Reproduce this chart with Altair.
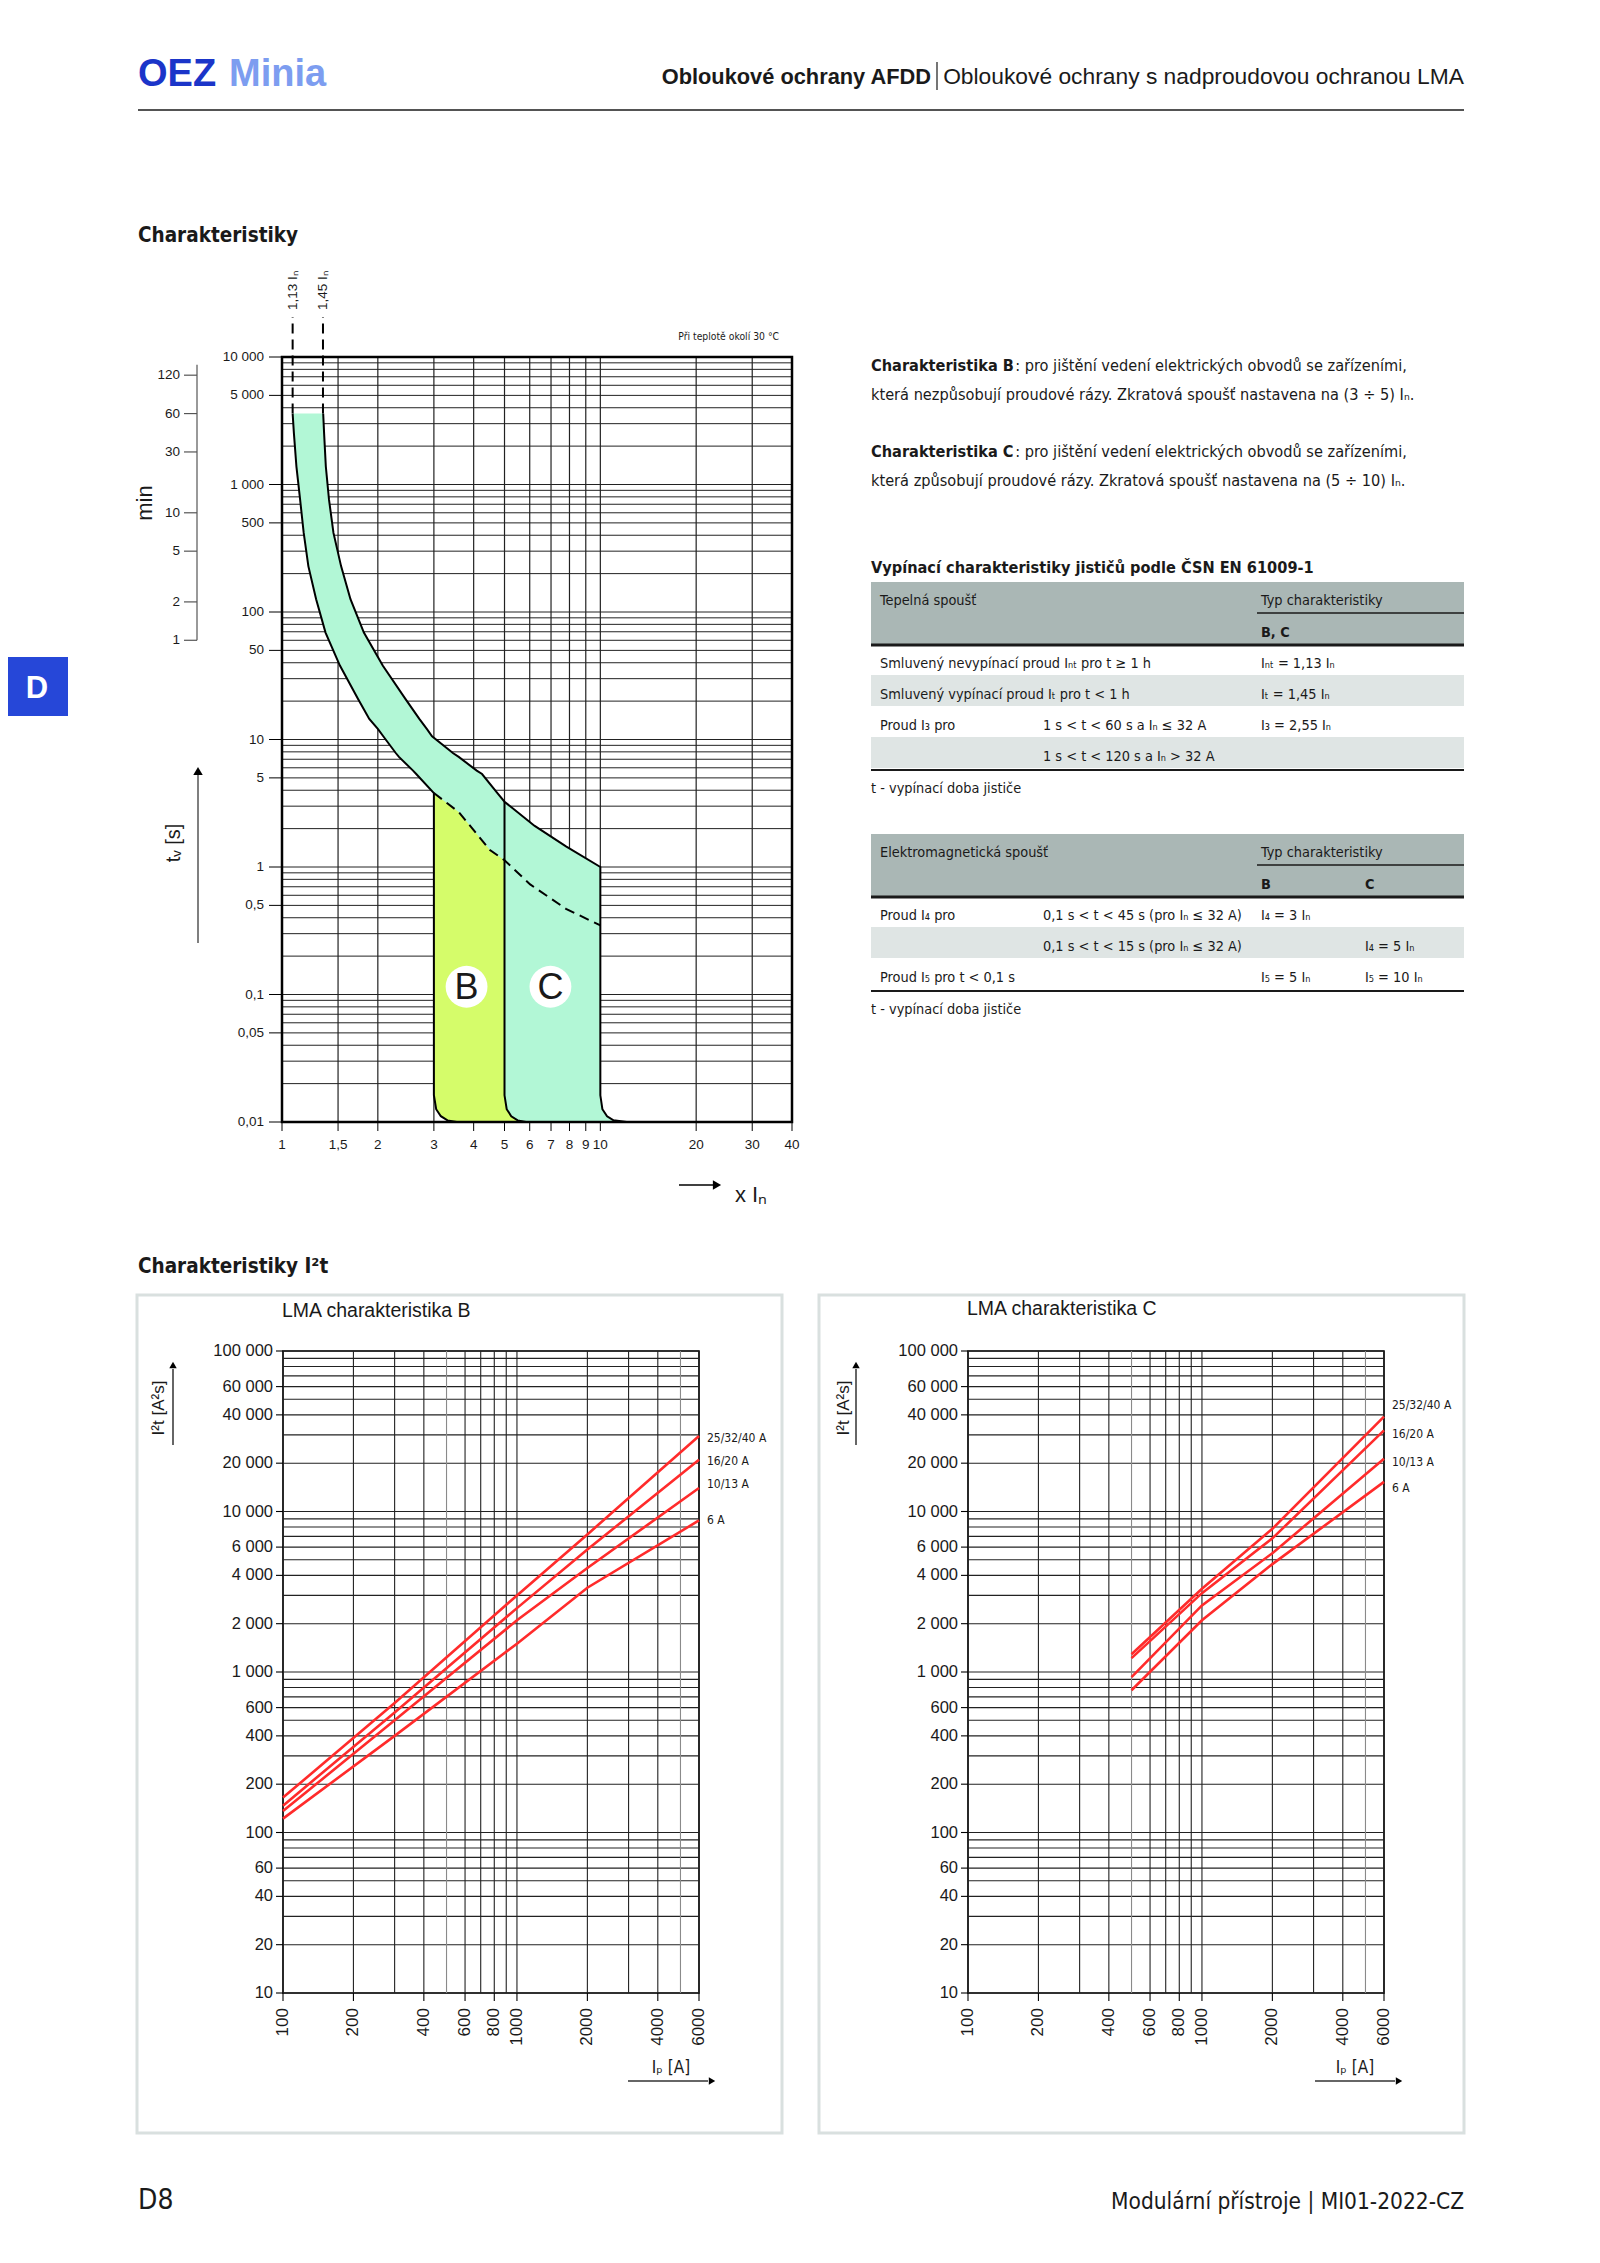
import altair as alt
import pandas as pd

# ---------------------------------------------------------------- style
INK = "#1a1a1a"
COND = "DejaVu Sans Condensed, Liberation Sans Narrow, sans-serif"
SANS = "Liberation Sans, Arial, sans-serif"
MINT = "#b2f7d6"
LIME = "#d5fc6a"
RED = "#ff2b2b"
BLUE_DARK = "#1b35c9"
BLUE_LIGHT = "#7d9df0"
TAB_BLUE = "#2647d8"
HEAD_GRAY = "#aab7b5"
ROW_GRAY = "#dfe5e4"
BOX_GRAY = "#d9e0df"
GRID_DARK = "#222222"
GRID_LIGHT = "#8a8a8a"

# ---------------------------------------------------------------- texts
BRAND = ["OEZ", "Minia"]
HEADER_BOLD = "Obloukové ochrany AFDD"
HEADER_REG = "Obloukové ochrany s nadproudovou ochranou LMA"
TITLE_1 = "Charakteristiky"
TITLE_2 = "Charakteristiky I²t"
PARA_BOLD = ["Charakteristika B", "Charakteristika C"]
PARA_L1 = ": pro jištění vedení elektrických obvodů se zařízeními,"
PARA_L2 = ["která nezpůsobují proudové rázy. Zkratová spoušť nastavena na (3 ÷ 5) Iₙ.",
           "která způsobují proudové rázy. Zkratová spoušť nastavena na (5 ÷ 10) Iₙ."]
TABLE_TITLE = "Vypínací charakteristiky jističů podle ČSN EN 61009-1"
T1_HEAD = ["Tepelná spoušť", "Typ charakteristiky", "B, C", ""]
T1_ROWS = [
    ["Smluvený nevypínací proud Iₙₜ pro t ≥ 1 h", "", "Iₙₜ = 1,13 Iₙ", ""],
    ["Smluvený vypínací proud Iₜ pro t < 1 h", "", "Iₜ = 1,45 Iₙ", ""],
    ["Proud I₃ pro", "1 s < t < 60 s  a  Iₙ ≤ 32 A", "I₃ = 2,55 Iₙ", ""],
    ["", "1 s < t < 120 s  a  Iₙ > 32 A", "", ""],
]
T2_HEAD = ["Elektromagnetická spoušť", "Typ charakteristiky", "B", "C"]
T2_ROWS = [
    ["Proud I₄ pro", "0,1 s < t < 45 s (pro Iₙ ≤ 32 A)", "I₄ = 3 Iₙ", ""],
    ["", "0,1 s < t < 15 s (pro Iₙ ≤ 32 A)", "", "I₄ = 5 Iₙ"],
    ["Proud I₅ pro t < 0,1 s", "", "I₅ = 5 Iₙ", "I₅ = 10 Iₙ"],
]
FOOTNOTE = "t - vypínací doba jističe"
TEMP_NOTE = "Při teplotě okolí 30 °C"
FOOT_LEFT = "D8"
FOOT_RIGHT = "Modulární přístroje | MI01-2022-CZ"
TAB_LETTER = "D"
CHART_TITLES = ["LMA charakteristika B", "LMA charakteristika C"]
I2T_YTITLE = "I²t [A²s]"
I2T_XTITLE = "Iₚ [A]"
TOP_YTITLE = "tᵥ [s]"
TOP_XTITLE = "x Iₙ"
MIN_TITLE = "min"

# ---------------------------------------------------------------- tripping characteristic (x = multiple of In, t = s)
BAND_T = [3600, 2518, 1383, 760, 417, 229, 126, 69, 38, 21, 14.5, 12.1, 10.6, 7.8, 7.3,
          5.7, 5.36, 3.8, 3.25, 2.1, 1.45, 1.0, 0.0162, 0.0126, 0.0111, 0.0103, 0.01]
BAND_LEFT = [1.08, 1.09, 1.11, 1.14, 1.17, 1.21, 1.28, 1.37, 1.52, 1.73, 1.88, 2.0, 2.08, 2.28, 2.33,
             2.58, 2.64, 3.0, 3.0, 3.0, 3.0, 3.0, 3.0, 3.05, 3.155, 3.31, 3.54]
BAND_RIGHT = [1.347, 1.356, 1.373, 1.405, 1.451, 1.533, 1.641, 1.808, 2.072, 2.435, 2.70, 2.85, 2.96, 3.45, 3.59,
              4.09, 4.25, 4.75, 5.0, 6.22, 7.8, 10.0, 10.0, 10.15, 10.5, 11.0, 12.1]
DASH_X = [3.0, 3.59, 4.5, 5.0, 6.02, 7.8, 10.0]
DASH_T = [3.8, 2.7, 1.36, 1.13, 0.73, 0.47, 0.348]
C_EDGE_X = [5.0, 5.0, 5.08, 5.25, 5.5, 5.84]
C_EDGE_T = [3.25, 0.0162, 0.0126, 0.0111, 0.0103, 0.01]
MINT_X = [1.08, 1.09, 1.11, 1.14, 1.17, 1.21, 1.28, 1.347, 1.356, 1.373, 1.405, 1.451, 1.52, 1.533, 1.641,
          1.73, 1.808, 1.88, 2.0, 2.072, 2.28, 2.435, 2.64, 2.70, 2.85, 2.96, 3.0, 3.001, 3.05, 3.155,
          3.31, 3.54, 3.59, 4.09, 4.25, 4.75, 5.0, 6.22, 7.8, 10.0, 10.001, 10.15, 10.5, 11.0, 12.1]
MINT_LO = [3600, 2518, 1383, 760, 417, 229, 126, 80, 77, 68, 60, 50, 38, 36, 26.7,
           21, 17.3, 14.5, 12.1, 10.8, 7.8, 6.56, 5.36, 5.04, 4.36, 3.94, 3.8, 0.0162, 0.0126, 0.0111,
           0.0103, 0.01, 0.01, 0.01, 0.01, 0.01, 0.01, 0.01, 0.01, 0.01, 0.01, 0.01, 0.01, 0.01, 0.01]
MINT_HI = [3600, 3600, 3600, 3600, 3600, 3600, 3600, 3600, 2518, 1383, 760, 417, 251, 229, 126,
           91, 69, 58, 44, 38, 26.7, 21, 15.7, 14.5, 12.1, 10.6, 10.3, 10.3, 10.0, 9.33,
           8.5, 7.5, 7.3, 5.7, 5.36, 3.8, 3.25, 2.1, 1.45, 1.0, 0.0162, 0.0126, 0.0111, 0.0103, 0.01]
LIME_X = [3.0, 3.05, 3.155, 3.31, 3.54, 3.59, 4.5, 5.0, 5.001, 5.08, 5.25, 5.5, 5.84]
LIME_LO = [0.0162, 0.0126, 0.0111, 0.0103, 0.01, 0.01, 0.01, 0.01, 0.01, 0.01, 0.01, 0.01, 0.01]
LIME_HI = [3.8, 3.68, 3.45, 3.15, 2.77, 2.7, 1.36, 1.13, 0.0162, 0.0126, 0.0111, 0.0103, 0.01]
THERMAL_X = [1.08, 1.345]
THERMAL_LABELS = ["1,13 Iₙ", "1,45 Iₙ"]
ZONE_LABELS = ["B", "C"]
ZONE_X = [3.8, 6.97]
ZONE_T = [0.115, 0.115]
X_TICKS = [1, 1.5, 2, 3, 4, 5, 6, 7, 8, 9, 10, 20, 30, 40]
X_TICK_LABELS = ["1", "1,5", "2", "3", "4", "5", "6", "7", "8", "9", "10", "20", "30", "40"]
Y_TICKS = [0.01, 0.05, 0.1, 0.5, 1, 5, 10, 50, 100, 500, 1000, 5000, 10000]
Y_TICK_LABELS = ["0,01", "0,05", "0,1", "0,5", "1", "5", "10", "50", "100", "500", "1 000", "5 000", "10 000"]
GRID_MULT = [1, 2, 3, 4, 5, 6, 7, 8, 9]
TOP_DECADES = [0.01, 0.1, 1, 10, 100, 1000]
MIN_TICKS = [120, 60, 30, 10, 5, 2, 1]
MIN_SPAN = [1, 145]

# ---------------------------------------------------------------- I2t data
SERIES = ["25/32/40 A", "16/20 A", "10/13 A", "6 A"]
B_X = [100, 300, 1000, 2000, 6000]
B_VALUES = {
    "25/32/40 A": [165, 640, 3000, 7200, 29500],
    "16/20 A": [147, 560, 2500, 5800, 21000],
    "10/13 A": [136, 500, 2100, 4450, 14000],
    "6 A": [122, 400, 1500, 3350, 8800],
}
B_LABEL_Y = [28700, 20600, 14800, 8850]
C_X = [500, 1000, 2000, 6000]
C_VALUES = {
    "25/32/40 A": [1290, 3300, 7800, 39000],
    "16/20 A": [1220, 3100, 6800, 32000],
    "10/13 A": [930, 2600, 5500, 21300],
    "6 A": [770, 2100, 4700, 15300],
}
C_LABEL_Y = [46000, 30500, 20300, 14000]
I2T_X_TICKS = [100, 200, 400, 600, 800, 1000, 2000, 4000, 6000]
I2T_X_LABELS = ["100", "200", "400", "600", "800", "1000", "2000", "4000", "6000"]
I2T_Y_TICKS = [10, 20, 40, 60, 100, 200, 400, 600, 1000, 2000, 4000, 6000,
               10000, 20000, 40000, 60000, 100000]
I2T_Y_LABELS = ["10", "20", "40", "60", "100", "200", "400", "600", "1 000", "2 000", "4 000", "6 000",
                "10 000", "20 000", "40 000", "60 000", "100 000"]
I2T_X_DECADES = [100, 1000]
I2T_Y_DECADES = [10, 100, 1000, 10000]
I2T_X_LIGHT = [500, 5000]

# ---------------------------------------------------------------- helpers
ONE = pd.DataFrame({"k": [0]})
OX, OY = 8, 8  # page margin


def ptext(s, x, y, size, font=COND, weight="normal", align="left", color=INK, angle=0,
          baseline="alphabetic"):
    return alt.Chart(ONE).mark_text(font=font, fontSize=size, fontWeight=weight, align=align,
                                    baseline=baseline, color=color, angle=angle).encode(
        x=alt.value(x - OX), y=alt.value(y - OY), text=alt.value(s))


def prect(x1, y1, x2, y2, **kw):
    return alt.Chart(ONE).mark_rect(**kw).encode(
        x=alt.value(x1 - OX), x2=alt.value(x2 - OX), y=alt.value(y1 - OY), y2=alt.value(y2 - OY))


def prule(x1, y1, x2, y2, color=INK, width=1.0):
    return alt.Chart(ONE).mark_rule(color=color, strokeWidth=width).encode(
        x=alt.value(x1 - OX), x2=alt.value(x2 - OX), y=alt.value(y1 - OY), y2=alt.value(y2 - OY))


def spacer(w, h):
    return alt.Chart(ONE).mark_point(opacity=0, size=1, strokeWidth=0).encode(
        x=alt.value(w / 2), y=alt.value(h / 2)).properties(width=w, height=h)


# ---------------------------------------------------------------- page geometry (page pixels)
PAGE_R = 1464
TOP_L, TOP_T, W_TOP, H_TOP = 282, 357, 510, 765
I2T_T, I2T_H = 1351, 642
B_L, C_L, W_I2T = 283, 968, 416

# ---------------------------------------------------------------- page decoration
page = []
page.append(ptext(BRAND[0], 138, 86, 38, font=SANS, weight="bold", color=BLUE_DARK))
page.append(ptext(BRAND[1], 229, 86, 38, font=SANS, weight="bold", color=BLUE_LIGHT))
page.append(ptext(HEADER_REG, PAGE_R, 84, 22.8, font=SANS, align="right"))
page.append(prule(937, 62, 937, 90, width=1.2))
page.append(ptext(HEADER_BOLD, 931, 84, 21.8, font=SANS, weight="bold", align="right"))
page.append(prule(138, 110, PAGE_R, 110, width=1.6))
page.append(ptext(TITLE_1, 138, 242, 20.5, weight="bold"))
page.append(ptext(TITLE_2, 138, 1273, 20.5, weight="bold"))
page.append(prect(8, 657, 68, 716, color=TAB_BLUE))
page.append(ptext(TAB_LETTER, 37, 698, 31, font=SANS, weight="bold", color="white", align="center"))

TX0, TX1 = 871, PAGE_R
PFS = 16.2
bold_w = 8.9 * PFS
for k, (yb1, yb2) in enumerate([(371, 400), (457, 486)]):
    page.append(ptext(PARA_BOLD[k], TX0, yb1, PFS, weight="bold"))
    page.append(ptext(PARA_L1, TX0 + bold_w, yb1, PFS))
    page.append(ptext(PARA_L2[k], TX0, yb2, PFS))
page.append(ptext(TABLE_TITLE, TX0, 573, 16.2, weight="bold"))

COLS = [880, 1043, 1261, 1365]
TFS = 14.4


def table(top, head, rows):
    out = [prect(TX0, top, TX1, top + 63, color=HEAD_GRAY)]
    out.append(ptext(head[0], COLS[0], top + 23, TFS))
    out.append(ptext(head[1], COLS[2], top + 23, TFS))
    out.append(prule(1257, top + 31, TX1, top + 31, width=1.6))
    out.append(ptext(head[2], COLS[2], top + 55, TFS, weight="bold"))
    if head[3]:
        out.append(ptext(head[3], COLS[3], top + 55, TFS, weight="bold"))
    out.append(prule(TX0, top + 63, TX1, top + 63, width=3))
    for i, row in enumerate(rows):
        yb = top + 86 + 31 * i
        if i % 2 == 1:
            out.append(prect(TX0, yb - 24, TX1, yb + 7, color=ROW_GRAY))
        for c, s in enumerate(row):
            if s:
                out.append(ptext(s, COLS[c], yb, TFS))
    bottom = top + 63 + 31 * len(rows) + 1
    out.append(prule(TX0, bottom, TX1, bottom, width=2))
    out.append(ptext(FOOTNOTE, TX0, bottom + 23, TFS))
    return out


page += table(582, T1_HEAD, T1_ROWS)
page += table(834, T2_HEAD, T2_ROWS)

page.append(prect(137, 1295, 782, 2133, fillOpacity=0, stroke=BOX_GRAY, strokeWidth=3))
page.append(prect(819, 1295, PAGE_R, 2133, fillOpacity=0, stroke=BOX_GRAY, strokeWidth=3))
page.append(ptext(CHART_TITLES[0], 282, 1317, 19.5, font=SANS))
page.append(ptext(CHART_TITLES[1], 967, 1315, 19.5, font=SANS))

page.append(ptext(FOOT_LEFT, 138, 2209, 28))
page.append(ptext(FOOT_RIGHT, PAGE_R, 2209, 22.5, align="right"))

page_view = alt.layer(*page).properties(width=1584, height=TOP_T - OY)

# ---------------------------------------------------------------- top chart
XS = alt.Scale(type="log", domain=[1, 40], nice=False)
YS = alt.Scale(type="log", domain=[0.01, 10000], nice=False)


def X(f):
    return alt.X(f, type="quantitative", scale=XS, axis=None)


def Y(f):
    return alt.Y(f, type="quantitative", scale=YS, axis=None)


grid_t = [m * d for d in TOP_DECADES for m in GRID_MULT] + [10000]
grid_y = alt.Chart(pd.DataFrame({"v": grid_t})).mark_rule(color=GRID_DARK, strokeWidth=1).encode(y=Y("v"))
grid_x = alt.Chart(pd.DataFrame({"v": X_TICKS})).mark_rule(color=GRID_DARK, strokeWidth=1.2).encode(x=X("v"))

mint = alt.Chart(pd.DataFrame({"x": MINT_X, "lo": MINT_LO, "hi": MINT_HI})).mark_area(
    color=MINT, opacity=1).encode(x=X("x"), y=Y("lo"), y2="hi:Q")
lime = alt.Chart(pd.DataFrame({"x": LIME_X, "lo": LIME_LO, "hi": LIME_HI})).mark_area(
    color=LIME, opacity=1).encode(x=X("x"), y=Y("lo"), y2="hi:Q")

band = pd.DataFrame({"i": list(range(len(BAND_T))), "t": BAND_T, "l": BAND_LEFT, "r": BAND_RIGHT})
left_line = alt.Chart(band).mark_line(color="black", strokeWidth=2).encode(x=X("l"), y=Y("t"), order="i:Q")
right_line = alt.Chart(band).mark_line(color="black", strokeWidth=2).encode(x=X("r"), y=Y("t"), order="i:Q")
cedge = alt.Chart(pd.DataFrame({"i": list(range(len(C_EDGE_X))), "x": C_EDGE_X, "t": C_EDGE_T})).mark_line(
    color="black", strokeWidth=2).encode(x=X("x"), y=Y("t"), order="i:Q")
dash = alt.Chart(pd.DataFrame({"x": DASH_X, "t": DASH_T})).mark_line(
    color="black", strokeWidth=2, strokeDash=[10, 6]).encode(x=X("x"), y=Y("t"))

thermal = pd.DataFrame({"x": THERMAL_X, "t": [BAND_T[0]] * len(THERMAL_X), "label": THERMAL_LABELS})
therm_rule = alt.Chart(thermal).mark_rule(color="black", strokeWidth=2, strokeDash=[10, 6]).encode(
    x=X("x"), y=Y("t"), y2=alt.value(-40))
therm_text = alt.Chart(thermal).mark_text(angle=270, align="left", baseline="middle", font=SANS,
                                          fontSize=13.5, color=INK).encode(
    x=X("x"), y=alt.value(-47), text="label:N")

zones = pd.DataFrame({"x": ZONE_X, "t": ZONE_T, "label": ZONE_LABELS})
zone_dot = alt.Chart(zones).mark_point(shape="circle", filled=True, color="white", size=1750, opacity=1).encode(
    x=X("x"), y=Y("t"))
zone_txt = alt.Chart(zones).mark_text(font=SANS, fontSize=36, baseline="middle", align="center", dy=1,
                                      color=INK).encode(x=X("x"), y=Y("t"), text="label:N")

frame = alt.Chart(ONE).mark_rect(fillOpacity=0, stroke="black", strokeWidth=2.5).encode(
    x=alt.value(0), x2=alt.value(W_TOP), y=alt.value(0), y2=alt.value(H_TOP))

yt_df = pd.DataFrame({"v": Y_TICKS, "lab": Y_TICK_LABELS})
y_ticks = alt.Chart(yt_df).mark_rule(color="black", strokeWidth=1).encode(
    y=Y("v"), x=alt.value(-13), x2=alt.value(0))
y_labels = alt.Chart(yt_df).mark_text(align="right", baseline="middle", font=SANS, fontSize=13.5,
                                      color=INK).encode(y=Y("v"), x=alt.value(-18), text="lab:N")
xt_df = pd.DataFrame({"v": X_TICKS, "lab": X_TICK_LABELS})
x_ticks = alt.Chart(xt_df).mark_rule(color="black", strokeWidth=1).encode(
    x=X("v"), y=alt.value(H_TOP), y2=alt.value(H_TOP + 9))
x_labels = alt.Chart(xt_df).mark_text(align="center", baseline="middle", font=SANS, fontSize=13.5,
                                      color=INK).encode(x=X("v"), y=alt.value(H_TOP + 23), text="lab:N")

mins = alt.Chart(pd.DataFrame({"m": MIN_TICKS})).transform_calculate(s="datum.m * 60")
min_ticks = mins.mark_rule(color="#555555", strokeWidth=1.2).encode(
    y=Y("s"), x=alt.value(-98), x2=alt.value(-85))
min_labels = mins.mark_text(align="right", baseline="middle", font=SANS, fontSize=13.5, color=INK).encode(
    y=Y("s"), x=alt.value(-102), text="m:Q")
min_span = alt.Chart(pd.DataFrame({"a": [MIN_SPAN[0]], "b": [MIN_SPAN[1]]})).transform_calculate(
    sa="datum.a * 60", sb="datum.b * 60").mark_rule(color="#555555", strokeWidth=1.2).encode(
    y=Y("sa"), y2="sb:Q", x=alt.value(-85))
min_title = alt.Chart(ONE).mark_text(angle=270, align="center", baseline="middle", font=SANS,
                                     fontSize=22, color=INK).encode(
    x=alt.value(-137), y=alt.value(146), text=alt.value(MIN_TITLE))

ytitle = alt.Chart(ONE).mark_text(angle=270, align="center", baseline="middle", font=SANS,
                                  fontSize=20, color=INK).encode(
    x=alt.value(-108), y=alt.value(486), text=alt.value(TOP_YTITLE))
yarrow = alt.Chart(ONE).mark_rule(color="#555555", strokeWidth=1.5).encode(
    x=alt.value(-84), y=alt.value(418), y2=alt.value(586))
yhead = alt.Chart(ONE).mark_point(shape="triangle-up", filled=True, color="black", size=90, opacity=1).encode(
    x=alt.value(-84), y=alt.value(414))
xtitle = alt.Chart(ONE).mark_text(align="left", baseline="alphabetic", font=SANS, fontSize=22,
                                  color=INK).encode(
    x=alt.value(453), y=alt.value(845), text=alt.value(TOP_XTITLE))
xarrow = alt.Chart(ONE).mark_rule(color="black", strokeWidth=1.5).encode(
    x=alt.value(397), x2=alt.value(431), y=alt.value(828))
xhead = alt.Chart(ONE).mark_point(shape="triangle-right", filled=True, color="black", size=90, opacity=1).encode(
    x=alt.value(435), y=alt.value(828))
temp = alt.Chart(ONE).mark_text(align="right", baseline="alphabetic", font=COND, fontSize=10.3,
                                color=INK).encode(
    x=alt.value(497), y=alt.value(-17), text=alt.value(TEMP_NOTE))

top = alt.layer(
    grid_y, grid_x, mint, lime, left_line, right_line, cedge, dash, therm_rule, therm_text,
    zone_dot, zone_txt, frame, y_ticks, y_labels, x_ticks, x_labels,
    min_span, min_ticks, min_labels, min_title, ytitle, yarrow, yhead, xtitle, xarrow, xhead, temp
).properties(width=W_TOP, height=H_TOP)


# ---------------------------------------------------------------- I2t charts
def i2t_chart(xs, values, label_y, width, yt_x, ya_x, xt_x, xa_x):
    H = I2T_H
    XSb = alt.Scale(type="log", domain=[100, 6000], nice=False)
    YSb = alt.Scale(type="log", domain=[10, 100000], nice=False)

    def XB(f):
        return alt.X(f, type="quantitative", scale=XSb, axis=None)

    def YB(f):
        return alt.Y(f, type="quantitative", scale=YSb, axis=None)

    gxv = [m * d for d in I2T_X_DECADES for m in GRID_MULT if m * d <= 6000]
    gx_df = pd.DataFrame({"v": gxv, "c": [GRID_LIGHT if v in I2T_X_LIGHT else GRID_DARK for v in gxv]})
    gyv = [m * d for d in I2T_Y_DECADES for m in GRID_MULT] + [100000]
    gx = alt.Chart(gx_df).mark_rule(strokeWidth=1.1).encode(x=XB("v"), color=alt.Color("c:N", scale=None))
    gy = alt.Chart(pd.DataFrame({"v": gyv})).mark_rule(color=GRID_DARK, strokeWidth=1.1).encode(y=YB("v"))

    yt_df = pd.DataFrame({"v": I2T_Y_TICKS, "lab": I2T_Y_LABELS})
    yticks = alt.Chart(yt_df).mark_rule(color="black", strokeWidth=1.1).encode(
        y=YB("v"), x=alt.value(-7), x2=alt.value(0))
    ylabs = alt.Chart(yt_df).mark_text(align="right", baseline="middle", font=SANS, fontSize=16.5,
                                       color=INK).encode(y=YB("v"), x=alt.value(-10), text="lab:N")
    xt_df = pd.DataFrame({"v": I2T_X_TICKS, "lab": I2T_X_LABELS})
    xticks = alt.Chart(xt_df).mark_rule(color="black", strokeWidth=1.1).encode(
        x=XB("v"), y=alt.value(H), y2=alt.value(H + 8))
    xlabs = alt.Chart(xt_df).mark_text(align="right", baseline="middle", angle=270, font=SANS, fontSize=17,
                                       color=INK).encode(x=XB("v"), y=alt.value(H + 15), text="lab:N")

    rows = [{"s": s, "x": x, "y": y} for s in SERIES for x, y in zip(xs, values[s])]
    lines = alt.Chart(pd.DataFrame(rows)).mark_line(color=RED, strokeWidth=2.6).encode(
        x=XB("x"), y=YB("y"), detail="s:N")
    labs = alt.Chart(pd.DataFrame({"s": SERIES, "x": [xs[-1]] * len(SERIES), "y": label_y})).mark_text(
        align="left", baseline="middle", dx=8, font=COND, fontSize=12, color=INK).encode(
        x=XB("x"), y=YB("y"), text="s:N")
    yt = alt.Chart(ONE).mark_text(angle=270, align="center", baseline="middle", font=SANS, fontSize=17,
                                  color=INK).encode(x=alt.value(yt_x), y=alt.value(57), text=alt.value(I2T_YTITLE))
    ya = alt.Chart(ONE).mark_rule(color="#333333", strokeWidth=1.5).encode(
        x=alt.value(ya_x), y=alt.value(18), y2=alt.value(94))
    yh = alt.Chart(ONE).mark_point(shape="triangle-up", filled=True, color="black", size=55, opacity=1).encode(
        x=alt.value(ya_x), y=alt.value(14))
    xt = alt.Chart(ONE).mark_text(align="center", baseline="alphabetic", font=COND, fontSize=17,
                                  color=INK).encode(x=alt.value(xt_x), y=alt.value(722), text=alt.value(I2T_XTITLE))
    xa = alt.Chart(ONE).mark_rule(color="#333333", strokeWidth=1.5).encode(
        x=alt.value(xa_x), x2=alt.value(xa_x + 80), y=alt.value(730))
    xh = alt.Chart(ONE).mark_point(shape="triangle-right", filled=True, color="black", size=55, opacity=1).encode(
        x=alt.value(xa_x + 84), y=alt.value(730))
    return alt.layer(gy, gx, lines, labs, yticks, ylabs, xticks, xlabs, yt, ya, yh, xt, xa, xh).properties(
        width=width, height=H, view=alt.ViewBackground(stroke="black", strokeWidth=1.6))


chart_b = i2t_chart(B_X, B_VALUES, B_LABEL_Y, W_I2T, -124, -110, 388, 345)
chart_c = i2t_chart(C_X, C_VALUES, C_LABEL_Y, W_I2T, -124, -112, 387, 347)

# ---------------------------------------------------------------- layout
# flush bounds: the nested rows add no height of their own, so a spacer
# (top chart height + gap) places the I2t row.
row1 = alt.hconcat(spacer(TOP_L - OX, H_TOP), top, spacing=0, bounds="flush")
row3 = alt.hconcat(spacer(B_L - OX, I2T_H), chart_b, spacer(C_L - B_L - W_I2T, I2T_H), chart_c,
                   spacing=0, bounds="flush")
chart = alt.vconcat(page_view, row1, spacer(1, I2T_T - TOP_T), row3, spacing=0, bounds="flush").properties(
    padding=0).configure_view(strokeWidth=0)

chart.save("out.html", embed_options={"renderer": "svg", "actions": False})
